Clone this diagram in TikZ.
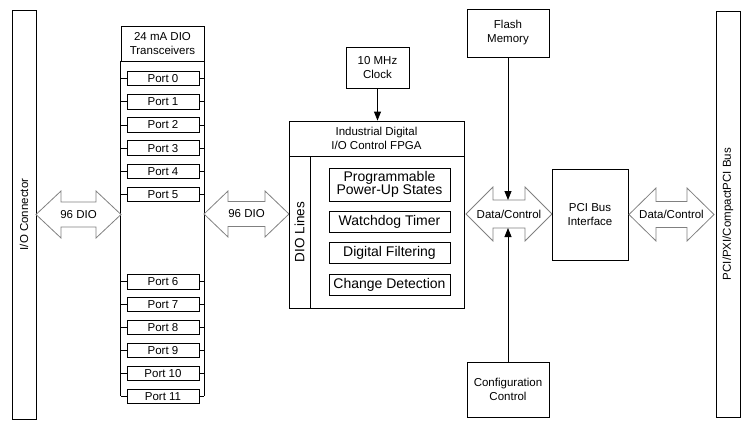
\documentclass[tikz,border=0pt]{standalone}
\usepackage{fontspec}
\setmainfont{Liberation Sans}
\usetikzlibrary{arrows.meta}
\newcommand\dblarr[6]{%
  \draw[arrowout] (#1,#3) -- ({#1+#4},{#3-#5}) -- ({#1+#4},{#3-#6}) -- ({#2-#4},{#3-#6})
    -- ({#2-#4},{#3-#5}) -- (#2,#3) -- ({#2-#4},{#3+#5}) -- ({#2-#4},{#3+#6})
    -- ({#1+#4},{#3+#6}) -- ({#1+#4},{#3+#5}) -- cycle;}
\begin{document}
\begin{tikzpicture}[x=1pt,y=-1pt,
  box/.style={draw, line width=0.8pt, inner sep=0pt, align=center,
    font=\fontsize{11.5}{14}\selectfont},
  bigbox/.style={box, font=\fontsize{14}{13.5}\selectfont},
  portbox/.style={box, minimum width=72pt, minimum height=14.5pt},
  lbl/.style={inner sep=0pt, align=center, font=\fontsize{11.5}{14}\selectfont},
  arrowout/.style={draw=black!50, line width=0.8pt, line join=miter},
  wire/.style={line width=0.8pt},
  sig/.style={line width=0.8pt, -{Triangle[length=9pt,width=7pt]}}]
\useasboundingbox (0,0) rectangle (750,426);
% I/O connector
\node[box, minimum width=24pt, minimum height=409pt] (io) at (24,214.5) {};
\node[lbl, rotate=90] (iolbl) at (io.center) {I/O Connector};
% transceivers
\node[box, minimum width=83pt, minimum height=35pt] (trans) at (162.5,43.5) {24 mA DIO\\Transceivers};
\foreach \i/\y in {0/78.5,1/101.7,2/124.9,3/148.1,4/171.3,5/194.5,6/281.7,7/304.6,8/327.5,9/350.4,10/373.3,11/396.2}{
  \node[portbox] (p\i) at (163,\y) {Port \i};
  \draw[wire] (p\i.west) -- (p\i.west -| trans.west);
  \draw[wire] (p\i.east) -- (p\i.east -| trans.east);
}
\draw[wire] (trans.south west) -- (p11.west -| trans.west);
\draw[wire] (trans.south east) -- (p11.east -| trans.east);
% 96 DIO arrows
\dblarr{36}{121}{214.5}{25}{23.5}{12.5}
\node[lbl] (dioa) at (78.5,214.5) {96 DIO};
\dblarr{204}{289}{214}{24}{23}{12.5}
\node[lbl] (diob) at (246.5,214) {96 DIO};
% FPGA
\node[box, minimum width=175pt, minimum height=35pt] (fpgah) at (376.5,138.5) {Industrial Digital\\I/O Control FPGA};
\node[box, minimum width=175pt, minimum height=152pt] (fpgab) at (376.5,232) {};
\node[box, minimum width=21pt, minimum height=152pt] (diol) at (299.5,232) {};
\node[lbl, rotate=90, font=\fontsize{13.5}{14}\selectfont] (diollbl) at (diol.center) {DIO Lines};
\node[bigbox, minimum width=121pt, minimum height=33pt] (prog) at (389.5,184.5) {Programmable\\Power-Up States};
\node[bigbox, minimum width=121pt, minimum height=21pt] (wd) at (389.5,221.5) {Watchdog Timer};
\node[bigbox, minimum width=121pt, minimum height=21pt] (df) at (389.5,253) {Digital Filtering};
\node[bigbox, minimum width=121pt, minimum height=21pt] (cd) at (389.5,284.5) {Change Detection};
% clock
\node[box, minimum width=63pt, minimum height=41pt] (clk) at (377.5,67.5) {10 MHz\\Clock};
\draw[sig] (clk.south) -- (clk.south |- fpgah.north);
% flash / config
\node[box, minimum width=82pt, minimum height=48pt] (flash) at (508,33) {Flash\\Memory};
\node[box, minimum width=82pt, minimum height=55pt] (cfg) at (508,389.5) {Configuration\\Control};
\dblarr{466}{552}{214}{27}{27}{14}
\node[lbl] (dc1) at (509,214) {Data/Control};
\coordinate (dctop) at (508,200);
\coordinate (dcbot) at (508,228);
\draw[sig] (flash.south) -- (dctop);
\draw[sig] (cfg.north) -- (dcbot);
% PCI
\node[box, minimum width=76pt, minimum height=91pt] (pci) at (590,214.5) {PCI Bus\\Interface};
\dblarr{629}{714}{214.5}{27}{26.5}{13}
\node[lbl] (dc2) at (671.5,214.5) {Data/Control};
\node[box, minimum width=24pt, minimum height=406pt] (bus) at (728,214) {};
\node[lbl, rotate=90] (buslbl) at (bus.center) {PCI/PXI/CompactPCI Bus};
\end{tikzpicture}
\end{document}
